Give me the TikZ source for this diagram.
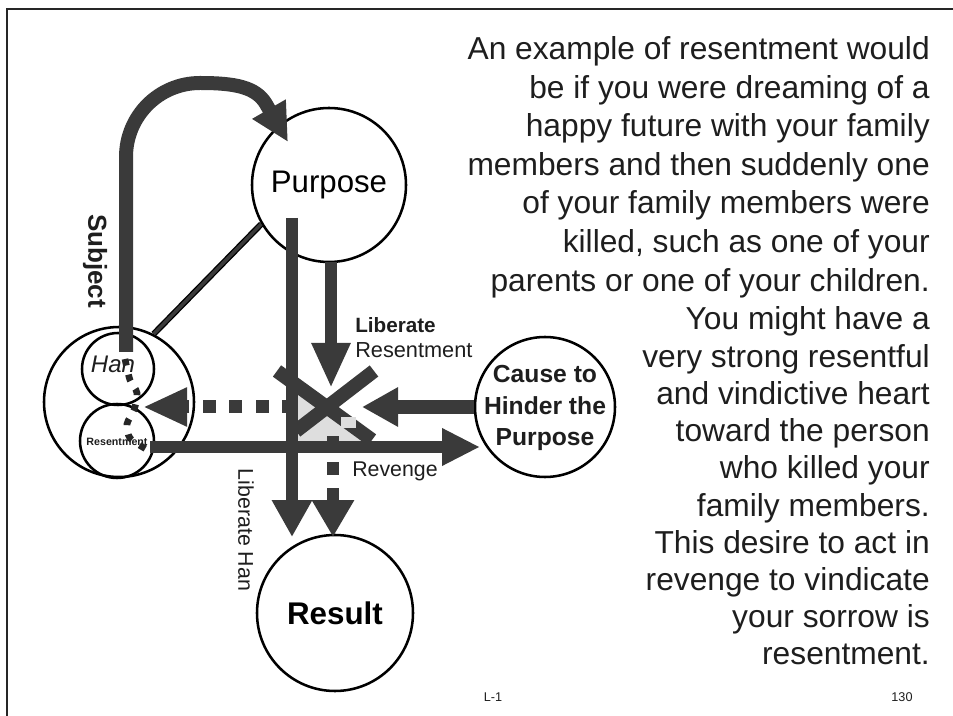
\documentclass[tikz,border=0pt]{standalone}
\usepackage{fontspec}
\setmainfont{Liberation Sans}
\usetikzlibrary{arrows.meta}
\definecolor{arrowc}{RGB}{58,58,58}
\definecolor{wedgec}{RGB}{222,222,222}
\definecolor{txtc}{RGB}{30,30,30}
\begin{document}
\begin{tikzpicture}[x=0.75pt,y=-0.75pt,
  circ/.style={circle, draw=black, line width=1.9pt, inner sep=0pt},
  bar/.style={draw=arrowc, line width=9pt},
  wbar/.style={draw=arrowc, line width=10.5pt},
  head/.style 2 args={-{Triangle[width=#1,length=#2]}},
  lbl/.style={inner sep=0pt, text=txtc},
  para/.style={inner sep=0pt, text=txtc, anchor=base east, font=\fontsize{23.8pt}{28pt}\selectfont}]
\useasboundingbox (0,0) rectangle (953,716);
\fill[white] (0,0) rectangle (953,716);
\draw[line width=1.5pt, black!85] (7,716) -- (7,9) -- (953,9);

% light gaps in the crossing
\fill[wedgec] (292,388) -- (320,407.5) -- (292,428) -- cycle;
\fill[wedgec] (290,441) -- (327,413) -- (366,441) -- cycle;

% circles
\node[circ, minimum size=115.5pt, font=\fontsize{23.4pt}{28pt}\selectfont] (P) at (329,185) {Purpose};
\node[circ, minimum size=105pt] (C) at (545,407) {};
\node[lbl, align=center, font=\bfseries\fontsize{18.5pt}{23.3pt}\selectfont] (Ct) at (545,408) {Cause to\\Hinder the\\Purpose};
\node[circ, minimum size=117pt, font=\bfseries\fontsize{23.5pt}{28pt}\selectfont] (R) at (335,613) {Result};
\node[circ, minimum size=112.5pt] (H) at (119,402) {};
\node[circ, minimum size=54pt] (Hs) at (118,369) {};
\node[circ, minimum size=55.5pt] (Rs) at (117,441) {};
\node[lbl, font=\itshape\fontsize{18pt}{20pt}\selectfont] (Ht) at (113,364) {Han};
\node[lbl, font=\bfseries\fontsize{8pt}{9pt}\selectfont] (Rt) at (117,442) {Resentment};

% coordinates
\coordinate (arcS) at (126,352);
\coordinate (arcT) at (288,142);
\coordinate (lrS) at (331,262);
\coordinate (lrT) at (331,388);
\coordinate (lhS) at (292,218);
\coordinate (lhT) at (292,537);
\coordinate (rvS) at (333,436);
\coordinate (rvT) at (333,537);
\coordinate (rcS) at (150,447);
\coordinate (rcT) at (480,447);
\coordinate (cxT) at (362,407);
\coordinate (dlS) at (295,407);
\coordinate (dlT) at (143,407);
\coordinate (xa1) at (374,371);
\coordinate (xa2) at (296,431);
\coordinate (xb1) at (277,371);
\coordinate (xb2) at (372,440);
\coordinate (sq1) at (125,359);

% Han -- Purpose line
\draw[black, line width=1pt, double=arrowc, double distance=2.6pt] (H.63) -- (P.210);

% Subject arc arrow
\draw[wbar, head={27pt}{28.5pt}] (arcS) -- (126,157) .. controls (126,116) and (159,83) .. (200,83)
  .. controls (235,83) and (256,87) .. (266,104) -- (arcT);

% dotted arrow into Han circle
\draw[draw=arrowc, line width=9.75pt, dash pattern=on 9.75pt off 10.1pt, head={27pt}{33pt}] (dlS) -- (dlT);

% crossing
\draw[wbar] (xa1) -- (xa2);
\draw[wbar] (xb1) -- (xb2);
\fill[wedgec] (341,417) rectangle (356,428);

% Liberate Resentment arrow
\draw[bar, head={27pt}{33.75pt}] (lrS) -- (lrT);
% Cause -> crossing
\draw[wbar, head={27.75pt}{27pt}] (C.west) -- (cxT);
% Revenge dashed arrow
\draw[draw=arrowc, line width=9.5pt, dash pattern=on 9.75pt off 9.75pt, head={30pt}{27.75pt}] (rvS) -- (rvT);
% Liberate Han arrow
\draw[bar, head={28.5pt}{27.75pt}] (lhS) -- (lhT);
% Resentment -> Cause
\draw[bar, head={26.25pt}{28.5pt}] (rcS) -- (rcT);

% dotted Han -> Resentment
\draw[black!85, line width=5pt, dash pattern=on 5pt off 7pt]
  plot[smooth] coordinates {(sq1) (130,380) (137,393) (134,410) (127,424) (130,438) (146,449)};

% labels
\node[lbl, rotate=-90, font=\bfseries\fontsize{19.5pt}{20pt}\selectfont] (subj) at (95,261) {Subject};
\node[lbl, anchor=base west, font=\bfseries\fontsize{15.5pt}{16pt}\selectfont] (lib1) at (355,333) {Liberate};
\node[lbl, anchor=base west, font=\fontsize{16.3pt}{17pt}\selectfont] (lib2) at (355,358) {Resentment};
\node[lbl, anchor=base west, font=\fontsize{16pt}{17pt}\selectfont] (rev) at (352,476) {Revenge};
\node[lbl, rotate=-90, font=\fontsize{16pt}{17pt}\selectfont] (lhan) at (246,530) {Liberate Han};
\node[lbl, font=\fontsize{9.5pt}{10pt}\selectfont] (pg1) at (493,697) {L-1};
\node[lbl, font=\fontsize{9.5pt}{10pt}\selectfont] (pg2) at (902,697) {130};

% paragraphs
\foreach \t [count=\i] in {An example of resentment would, be if you were dreaming of a,
  happy future with your family, members and then suddenly one, of your family members were,
  {killed, such as one of your}, parents or one of your children.}
  \node[para] (pa\i) at ({930},{59.5+38.6*(\i-1)}) {\t};
\foreach \t [count=\i] in {You might have a, very strong resentful, and vindictive heart,
  toward the person, who killed your, family members., This desire to act in,
  revenge to vindicate, your sorrow is, resentment.}
  \node[para] (pb\i) at ({930},{330+37.2*(\i-1)}) {\t};
\end{tikzpicture}
\end{document}
